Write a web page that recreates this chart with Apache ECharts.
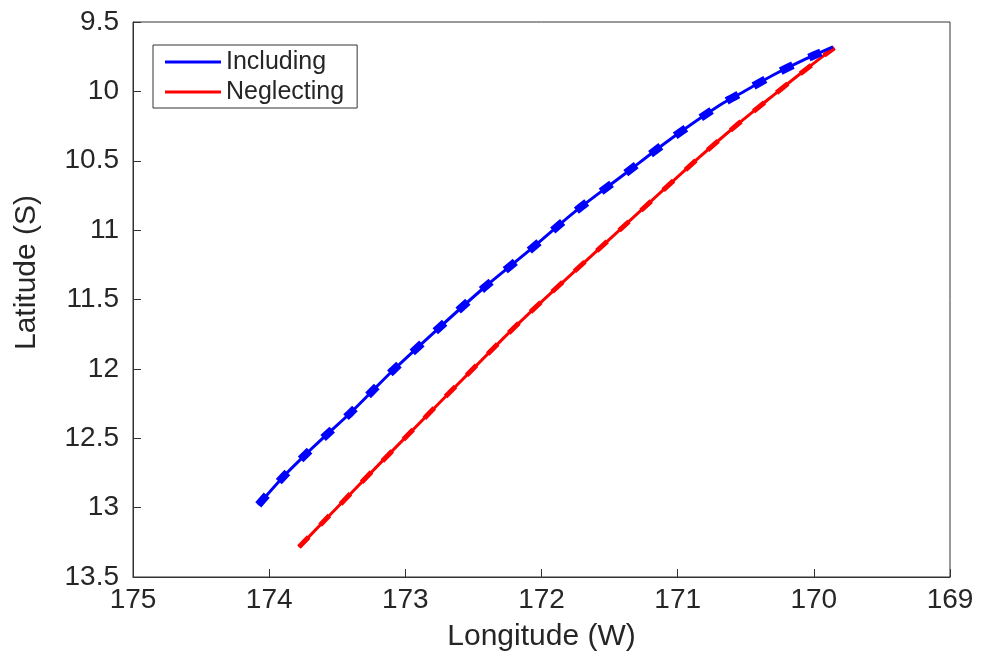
<!DOCTYPE html>
<html>
<head>
<meta charset="utf-8">
<title>Trajectory</title>
<script src="https://cdn.jsdelivr.net/npm/echarts@6/dist/echarts.min.js"></script>
<style>
  html, body { margin: 0; padding: 0; background: #fff; }
  #chart { width: 987px; height: 657px; }
</style>
</head>
<body>
<div id="chart"></div>
<script>
// Track positions (longitude W, latitude S)
const incLon = [174.08, 173.896, 173.724, 173.566, 173.406, 173.247, 173.088, 172.770, 172.427, 172.085, 171.754, 171.399, 171.044, 170.689, 170.493, 170.298, 170.101, 169.86];
const incLat = [12.981, 12.777, 12.609, 12.464, 12.320, 12.164, 12.008, 11.720, 11.419, 11.143, 10.867, 10.603, 10.338, 10.098, 9.990, 9.882, 9.786, 9.68];
const negLon = [173.781, 173.604, 173.186, 172.281, 171.987, 171.399, 170.836, 170.557, 170.322, 170.102, 169.85];
const negLat = [13.284, 13.104, 12.681, 11.780, 11.504, 10.975, 10.471, 10.235, 10.048, 9.875, 9.685];

const seriesNames = ['Including', 'Neglecting'];
const xTitle = 'Longitude (W)';
const yTitle = 'Latitude (S)';

const zip = (a, b) => a.map((v, i) => [v, b[i]]);
const incData = zip(incLon, incLat);
const negData = zip(negLon, negLat);

const ink = '#262626';
const font = 'Liberation Sans, Arial, Helvetica, sans-serif';

const chart = echarts.init(document.getElementById('chart'));
chart.setOption({
  animation: false,
  backgroundColor: '#fff',
  grid: {
    left: 133, top: 22, right: 37, bottom: 80,
    containLabel: false, outerBoundsMode: 'none',
    show: true, borderColor: '#333', borderWidth: 1
  },
  legend: {
    data: seriesNames,
    orient: 'vertical',
    left: 153, top: 45,
    padding: [4, 13, 3, 12],
    icon: 'rect',
    itemWidth: 56, itemHeight: 3, itemGap: 4,
    backgroundColor: '#fff',
    borderColor: '#333', borderWidth: 1, borderRadius: 0,
    textStyle: { fontFamily: font, fontSize: 25, color: ink, lineHeight: 26 }
  },
  xAxis: {
    type: 'value', min: 169, max: 175, interval: 1, inverse: true,
    name: xTitle, nameLocation: 'middle', nameGap: 45,
    nameTextStyle: { fontFamily: font, fontSize: 30, color: ink },
    axisLine: { show: true, onZero: false, lineStyle: { color: '#333', width: 1 } },
    axisTick: { show: true, inside: true, length: 8, lineStyle: { color: '#333' } },
    axisLabel: { fontFamily: font, fontSize: 28, color: ink, margin: 9 },
    splitLine: { show: false }
  },
  yAxis: {
    type: 'value', min: 9.5, max: 13.5, interval: 0.5, inverse: true,
    name: yTitle, nameLocation: 'middle', nameGap: 91,
    nameTextStyle: { fontFamily: font, fontSize: 30, color: ink, padding: [0, 0, 0, 54] },
    axisLine: { show: true, onZero: false, lineStyle: { color: '#333', width: 1 } },
    axisTick: { show: true, inside: true, length: 8, lineStyle: { color: '#333' } },
    axisLabel: { fontFamily: font, fontSize: 28, color: ink, margin: 14 },
    splitLine: { show: false }
  },
  series: [
    {
      name: 'Including', type: 'line', data: incData, symbol: 'none', smooth: 0.3,
      lineStyle: { color: '#0000ff', width: 3 }, itemStyle: { color: '#0000ff' }, z: 3
    },
    {
      name: 'Including (dashed)', type: 'line', data: incData, symbol: 'none', smooth: 0.3,
      lineStyle: { color: '#0000ff', width: 8, type: [13, 18], cap: 'butt' }, z: 3
    },
    {
      name: 'Neglecting', type: 'line', data: negData, symbol: 'none', smooth: 0.3,
      lineStyle: { color: '#ff0000', width: 3 }, itemStyle: { color: '#ff0000' }, z: 2
    },
    {
      name: 'Neglecting (dashed)', type: 'line', data: negData, symbol: 'none', smooth: 0.3,
      lineStyle: { color: '#ff0000', width: 5, type: [14, 16], cap: 'butt' }, z: 2
    }
  ]
});
</script>
</body>
</html>
